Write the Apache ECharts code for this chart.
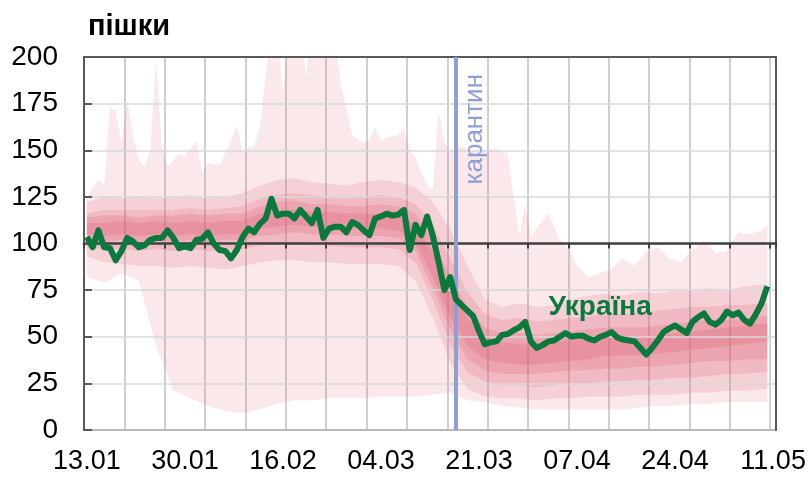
<!DOCTYPE html>
<html>
<head>
<meta charset="utf-8">
<script src="https://cdn.jsdelivr.net/npm/echarts@6.0.0/dist/echarts.min.js"></script>
<style>
  html, body { margin: 0; padding: 0; background: #fff; }
  #main { width: 810px; height: 477px; }
</style>
</head>
<body>
<div id="main"></div>
<script>
// days since 13.01 (0..119), labels every 17 days, grid every week
var tickLabels = ['13.01', '30.01', '16.02', '04.03', '21.03', '07.04', '24.04', '11.05'];
var quarantineDay = 64;

// Ukraine, daily
var ukraine = [103.5, 98, 107, 98, 97.5, 91, 96, 103, 101, 98,
  99, 102, 103, 103, 107, 103, 97.5, 98.5, 97.5, 102,
  102.5, 106, 100, 96.5, 96, 92, 96.5, 103.5, 108, 106,
  110.5, 113.5, 124, 115, 116, 116, 113.5, 118, 114.5, 111,
  118, 103, 108, 109, 109, 106, 111.5, 110, 107, 104.5,
  113.5, 114.5, 116, 115, 115.5, 118, 96.5, 110, 104.5, 114.5,
  104, 90, 75, 82, 70, 67, 64, 61, 53, 46,
  47, 47.5, 51, 51.5, 53.5, 55, 58, 47.5, 44, 45.5,
  47.5, 48, 50, 52, 50, 50.5, 50.5, 49, 48, 50,
  51, 52.5, 49.5, 48.5, 48, 47.5, 44, 40.5, 44, 48,
  52.5, 54.5, 56, 54, 52, 58, 60.5, 62.5, 58, 56.5,
  59, 63.5, 61.5, 63, 59, 57, 62, 68, 77];

// percentile bands of other countries (sampled every 3 days)
var bandDays = [0, 3, 6, 9, 12, 15, 18, 21, 24, 27, 30, 33, 36, 39, 42, 45, 48, 51, 54, 57,
  60, 63, 66, 69, 72, 75, 78, 81, 84, 87, 90, 93, 96, 99, 102, 105, 108, 111, 114, 117, 118];
var lo1 = [82, 79, 84, 80, 45, 21, 17, 13, 10, 9, 11, 14, 16, 16, 17, 17, 17, 18, 18, 18,
  19, 20, 16, 15, 13, 12, 11, 11, 11, 11, 11, 11, 12, 13, 13, 14, 14, 15, 15, 15, 15];
var lo2 = [93, 90, 89, 88, 88, 87, 88, 87, 86, 88, 90, 91, 91, 90, 90, 89, 89, 89, 88, 80,
  60, 36, 22, 18, 17, 17, 16, 17, 17, 18, 18, 18, 19, 19, 19, 20, 20, 21, 21, 22, 22];
var hi2 = [122, 125, 124, 125, 124, 125, 126, 124, 125, 127, 131, 134, 135, 133, 132, 131, 133, 134, 133, 130,
  122, 108, 88, 70, 66, 68, 66, 67, 70, 72, 73, 72, 74, 73, 75, 75, 76, 75, 77, 78, 78];
var lo3 = [98, 97, 97, 96, 97, 96, 97, 96, 96, 97, 99, 100, 100, 99, 99, 98, 98, 98, 97, 90,
  70, 46, 31, 26, 24, 24, 23, 24, 25, 25, 26, 26, 27, 27, 28, 28, 29, 30, 30, 31, 31];
var hi3 = [116, 118, 118, 118, 118, 118, 119, 118, 119, 120, 124, 126, 127, 126, 125, 124, 125, 126, 125, 121,
  110, 92, 74, 62, 59, 60, 58, 59, 60, 61, 62, 62, 63, 64, 65, 66, 66, 67, 67, 68, 68];
var lo4 = [102, 101, 102, 101, 102, 101, 102, 101, 102, 102, 104, 105, 106, 105, 105, 104, 104, 104, 103, 96,
  76, 54, 38, 32, 30, 30, 30, 31, 32, 32, 33, 33, 34, 34, 35, 36, 37, 37, 38, 38, 38];
var hi4 = [114, 115, 115, 114, 115, 115, 116, 115, 116, 116, 120, 122, 123, 121, 121, 120, 120, 121, 120, 116,
  102, 82, 66, 55, 52, 52, 51, 52, 53, 54, 55, 55, 55, 56, 57, 58, 59, 59, 60, 61, 61];
var lo5 = [105, 104, 105, 104, 105, 104, 105, 104, 105, 105, 108, 109, 110, 109, 109, 108, 108, 108, 107, 100,
  82, 60, 45, 38, 36, 35, 35, 36, 37, 38, 40, 40, 40, 41, 42, 43, 44, 45, 46, 47, 47];
var hi5 = [111, 111, 112, 111, 112, 111, 112, 111, 112, 112, 116, 118, 118, 117, 117, 116, 116, 116, 115, 110,
  95, 75, 60, 50, 47, 46, 46, 47, 48, 49, 50, 50, 50, 51, 52, 53, 54, 55, 56, 57, 57];

// top of the widest band is spiky, read at its own days
var hi1Days = [0, 2, 3, 4, 5, 6, 7, 8, 9, 10, 11, 12, 13, 14, 16, 17, 19, 20, 21, 23,
  25, 26, 27, 29, 30, 31, 32, 33, 34, 35, 36, 37, 38, 39, 40, 41, 42, 43, 44, 45,
  46, 48, 49, 50, 51, 52, 54, 55, 56, 57, 58, 59, 60, 61, 62, 63, 65, 67, 69, 71,
  73, 74, 75, 76, 77, 78, 80, 82, 84, 85, 87, 89, 91, 93, 95, 97, 99, 101, 103, 105,
  107, 109, 111, 113, 115, 117, 118];
var hi1 = [125, 134, 131, 173, 171, 154, 177, 158, 145, 141, 150, 198, 152, 141, 148, 147, 155, 138, 143, 142,
  155, 163, 150, 152, 162, 190, 215, 215, 180, 215, 215, 215, 190, 215, 215, 215, 215, 210, 186, 173,
  158, 154, 156, 162, 155, 157, 158, 162, 150, 146, 138, 131, 129, 171, 154, 150, 152, 149, 150, 151,
  148, 125, 104, 122, 104, 108, 116, 102, 95, 88, 82, 84, 86, 92, 88, 96, 98, 92, 90, 97,
  101, 95, 96, 106, 105, 107, 110];

var days = [];
for (var i = 0; i < 120; i++) days.push(i);

var font = 'Liberation Sans, Arial, sans-serif';
var green = '#0a7a3c';
var blue = '#8e9fd6';

function bandSeries(loDays, lo, hiDays, hi, color) {
  return {
    type: 'custom',
    silent: true,
    clip: true,
    z: 2,
    data: [[0, 0]],
    renderItem: function (params, api) {
      var pts = [];
      for (var a = 0; a < hiDays.length; a++) pts.push(api.coord([hiDays[a], hi[a]]));
      for (var b = loDays.length - 1; b >= 0; b--) pts.push(api.coord([loDays[b], lo[b]]));
      return { type: 'polygon', shape: { points: pts }, style: { fill: color } };
    }
  };
}

var myChart = echarts.init(document.getElementById('main'));

var option = {
  animation: false,
  title: {
    text: 'пішки',
    left: 83,
    top: 7,
    textStyle: { fontSize: 29, fontWeight: 'bold', color: '#000', fontFamily: font }
  },
  grid: { left: 84, right: 34, top: 57, bottom: 47, containLabel: false },
  xAxis: [
    {
      type: 'category',
      data: days,
      boundaryGap: true,
      axisLine: { show: true, onZero: false, lineStyle: { color: '#595959', width: 2 } },
      axisTick: { show: false },
      axisLabel: {
        interval: function (i) { return i % 17 === 0; },
        formatter: function (v, i) { return tickLabels[i / 17]; },
        fontSize: 27, color: '#000', margin: 18, fontFamily: font
      },
      splitLine: {
        show: true,
        interval: function (i) { return i % 7 === 0; },
        lineStyle: { color: '#c0c0c0', width: 1.5 }
      }
    },
    {
      // the horizontal line at 100
      type: 'category',
      data: days,
      boundaryGap: true,
      position: 'bottom',
      offset: -186.5,
      z: 4,
      axisLine: { show: true, onZero: false, lineStyle: { color: '#404040', width: 2.5 } },
      axisTick: {
        show: true, inside: false, length: 5,
        interval: function (i) { return i % 7 === 0; },
        lineStyle: { color: '#404040', width: 2 }
      },
      axisLabel: { show: false },
      splitLine: { show: false }
    },
    {
      type: 'category',
      data: days,
      position: 'top',
      z: 4,
      axisLine: { show: true, onZero: false, lineStyle: { color: '#595959', width: 2 } },
      axisTick: { show: false },
      axisLabel: { show: false },
      splitLine: { show: false }
    }
  ],
  yAxis: [
    {
      type: 'value',
      min: 0,
      max: 200,
      interval: 25,
      z: 4,
      axisLine: { show: true, lineStyle: { color: '#595959', width: 2 } },
      axisTick: { show: true, inside: true, length: 8, lineStyle: { color: '#595959', width: 2 } },
      axisLabel: { fontSize: 28, color: '#000', margin: 26, fontFamily: font },
      splitLine: { show: true, lineStyle: { color: '#d9d9d9', width: 1.5 } }
    },
    {
      type: 'value',
      min: 0,
      max: 200,
      interval: 25,
      position: 'right',
      z: 4,
      axisLine: { show: true, lineStyle: { color: '#595959', width: 2 } },
      axisTick: { show: false },
      axisLabel: { show: false },
      splitLine: { show: false }
    }
  ],
  series: [
    bandSeries(bandDays, lo1, hi1Days, hi1, 'rgba(222,90,115,0.14)'),
    bandSeries(bandDays, lo2, bandDays, hi2, 'rgba(222,90,115,0.17)'),
    bandSeries(bandDays, lo3, bandDays, hi3, 'rgba(222,90,115,0.2)'),
    bandSeries(bandDays, lo4, bandDays, hi4, 'rgba(222,90,115,0.22)'),
    bandSeries(bandDays, lo5, bandDays, hi5, 'rgba(222,90,115,0.25)'),
    {
      // carries the quarantine marker
      type: 'line',
      data: ukraine,
      symbol: 'none',
      silent: true,
      z: 3,
      lineStyle: { opacity: 0 },
      markLine: {
        silent: true,
        symbol: ['none', 'none'],
        animation: false,
        lineStyle: { color: blue, width: 4, type: 'solid' },
        label: {
          show: true,
          formatter: 'карантин',
          position: 'insideEndBottom',
          distance: 6,
          padding: [0, 11, 0, 0],
          color: blue,
          fontSize: 26,
          fontFamily: font
        },
        data: [{ xAxis: quarantineDay }]
      }
    },
    {
      name: 'Україна',
      type: 'line',
      data: ukraine,
      symbol: 'none',
      z: 5,
      lineStyle: { color: green, width: 6, join: 'round' },
      itemStyle: { color: green },
      markPoint: {
        symbol: 'circle',
        symbolSize: 0,
        silent: true,
        label: {
          show: true,
          formatter: 'Україна',
          fontSize: 28,
          fontWeight: 'bold',
          color: green,
          fontFamily: font
        },
        data: [{ coord: [89, 66] }]
      }
    }
  ]
};

myChart.setOption(option);
</script>
</body>
</html>
